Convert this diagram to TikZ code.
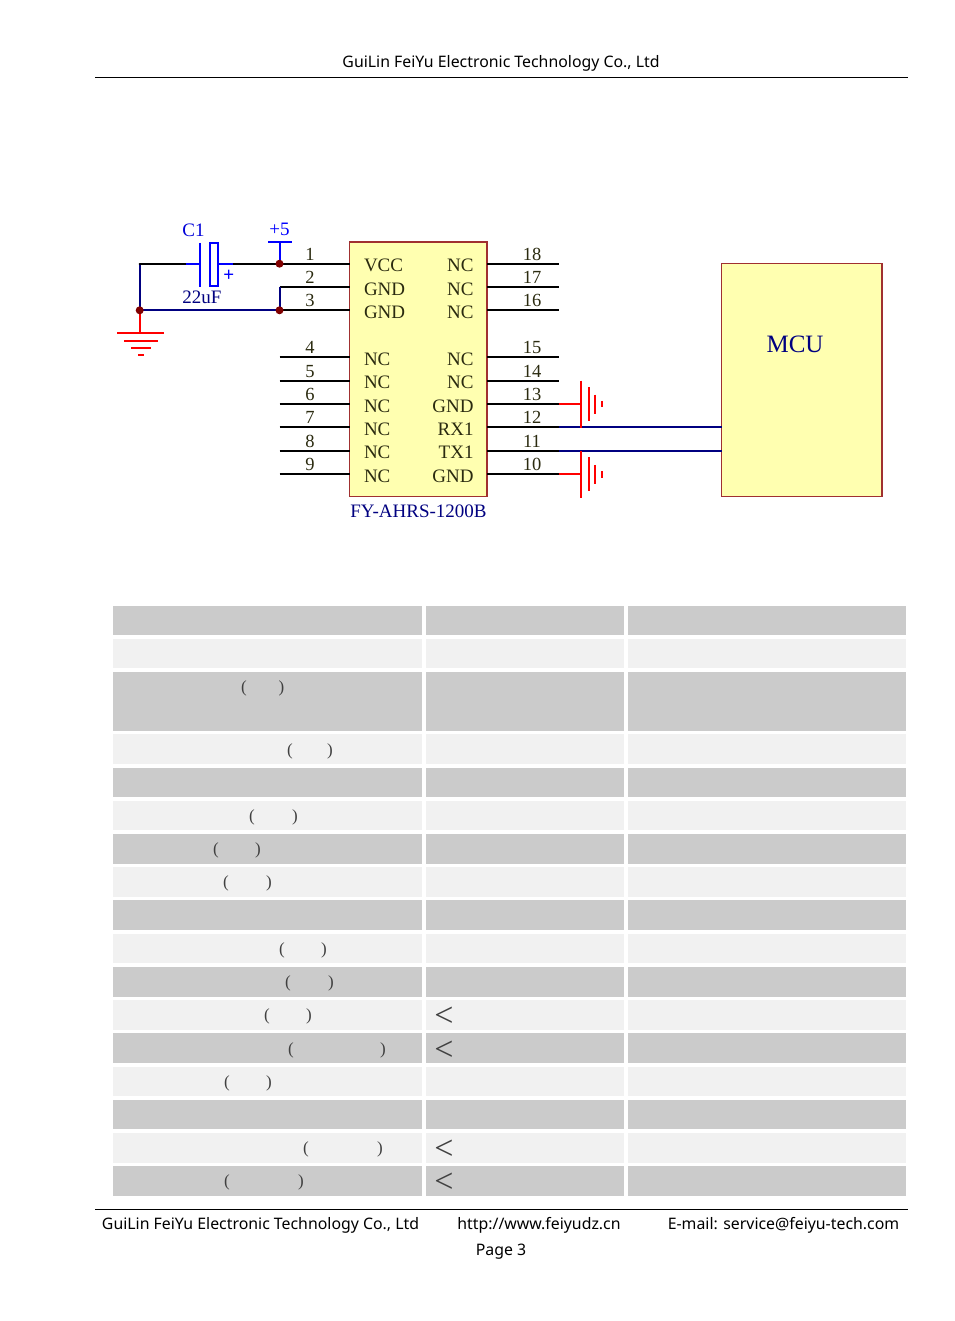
\documentclass[tikz,border=0pt]{standalone}
\usepackage{fontspec}
\setmainfont{Liberation Serif}
\newfontfamily\docsans{Noto Sans}
\definecolor{wirenavy}{HTML}{000080}
\definecolor{partblue}{HTML}{0000FF}
\definecolor{gndred}{HTML}{FF0000}
\definecolor{juncred}{HTML}{800000}
\definecolor{chipfill}{HTML}{FFFFB0}
\definecolor{chipedge}{HTML}{A03030}
\definecolor{pintext}{HTML}{2B2B10}
\definecolor{rowdark}{HTML}{CBCBCB}
\definecolor{rowlight}{HTML}{F1F1F1}
\tikzset{
  every node/.style={inner sep=0pt,outer sep=0pt},
  chipbox/.style={draw=chipedge,fill=chipfill,line width=1.5pt,anchor=north west},
  pinwire/.style={draw=black,line width=2pt},
  netwire/.style={draw=wirenavy,line width=2pt},
  partline/.style={draw=partblue,line width=2pt},
  gndline/.style={draw=gndred,line width=2pt},
  dotjunc/.style={circle,fill=juncred,minimum size=8pt},
  pinname/.style={font=\fontsize{19}{19}\selectfont,text=pintext,anchor=base},
  pinnum/.style={font=\fontsize{18.5}{19}\selectfont,text=pintext,anchor=base},
  partlabel/.style={font=\fontsize{19}{19}\selectfont,text=wirenavy,anchor=base},
  doctext/.style={font=\docsans\fontsize{15.85}{18}\selectfont,text=black,anchor=base},
  docrule/.style={draw=black,line width=0.9pt},
  darkrow/.style={fill=rowdark,draw=none,anchor=north west},
  lightrow/.style={fill=rowlight,draw=none,anchor=north west},
  tabmark/.style={font=\fontsize{17}{17}\selectfont,text=black!75,anchor=center},
}
\begin{document}
\begin{tikzpicture}[x=1pt,y=-1pt]
\useasboundingbox (0,0) rectangle (954,1321);
\fill[white] (0,0) rectangle (954,1321);

% header and footer
\node[doctext] (head) at (501,68) {GuiLin FeiYu Electronic Technology Co., Ltd};
\coordinate (headL) at (95,77.5); \coordinate (headR) at (908,77.5);
\draw[docrule] (headL) -- (headR);
\coordinate (footL) at (95,1209.5); \coordinate (footR) at (908,1209.5);
\draw[docrule] (footL) -- (footR);
\node[doctext] (foot1) at (260.5,1229.3) {GuiLin FeiYu Electronic Technology Co., Ltd};
\node[doctext] (foot2) at (539,1229.3) {http://www.feiyudz.cn};
\node[doctext] (foot3) at (783.5,1229.3) {E-mail: service@feiyu-tech.com};
\node[doctext] (foot4) at (501,1255.3) {Page 3};

% chip and MCU
\node[chipbox,minimum width=137.5pt,minimum height=254.5pt] (chip) at (349.6,242) {};
\node[chipbox,minimum width=160.5pt,minimum height=233pt] (mcu) at (721.5,263.7) {};
\node[font=\fontsize{25}{25}\selectfont,text=wirenavy,anchor=base] (mculabel) at (795,352) {MCU};
\node[partlabel] (chiplabel) at (418.5,517) {FY-AHRS-1200B};

% pins: number / wire y
\foreach \n/\w/\nm in {1/263.7/VCC,2/287/GND,3/310.3/GND,4/357/NC,5/380.7/NC,6/404/NC,7/427.3/NC,8/450.7/NC,9/474.3/NC}{
  \coordinate (L\n) at (279.5,\w);
  \coordinate (LE\n) at (350,\w);
  \draw[pinwire] (L\n) -- (LE\n);
  \node[pinnum] (ln\n) at (310,\w-3.6) {\n};
  \node[pinname,anchor=base west] (lname\n) at (364,\w+8) {\nm};
}
\foreach \n/\w/\nm in {18/263.7/NC,17/287/NC,16/310.3/NC,15/357/NC,14/380.7/NC,13/404/GND,12/427.3/RX1,11/450.7/TX1,10/474.3/GND}{
  \coordinate (R\n) at (558.5,\w);
  \coordinate (RE\n) at (487,\w);
  \draw[pinwire] (RE\n) -- (R\n);
  \node[pinnum] (rn\n) at (532,\w-3.6) {\n};
  \node[pinname,anchor=base east] (rname\n) at (473.5,\w+8) {\nm};
}

% nets to MCU
\coordinate (netRX) at (558.5,427.3); \coordinate (netTX) at (558.5,450.7);
\coordinate (mcuRX) at (722,427.3); \coordinate (mcuTX) at (722,450.7);
\draw[netwire] (netRX) -- (mcuRX);
\draw[netwire] (netTX) -- (mcuTX);

% left nets
\coordinate (leftTop) at (139.7,263.7);
\coordinate (capL) at (186,263.7);
\coordinate (capR) at (233,263.7);
\coordinate (jVccPt) at (279.5,263.7);
\coordinate (jGndPt) at (279.5,310.3);
\coordinate (jLeftPt) at (139.7,310.3);
\draw[netwire] (jLeftPt) -- (jGndPt);
\draw[netwire] (jLeftPt) -- (leftTop);
\draw[netwire] (L2) -- (jGndPt);
\draw[pinwire,line cap=round] (leftTop) -- (capL);
\draw[pinwire] (capR) -- (jVccPt);

% capacitor
\coordinate (plateLT) at (200,243); \coordinate (plateLB) at (200,287);
\coordinate (plateLm) at (200,263.7);
\node[draw=partblue,line width=2pt,minimum width=8pt,minimum height=43pt] (plateR) at (213.7,264.5) {};
\draw[partline] (capL) -- (plateLm);
\draw[partline] (plateLT) -- (plateLB);
\draw[partline] (plateR.east |- capR) -- (capR);
\node[font=\docsans\bfseries\fontsize{19}{19}\selectfont,text=partblue] (plus) at (228.7,276) {+};
\node[partlabel,text=partblue!70!wirenavy] (c1) at (193.5,236.5) {C1};
\node[partlabel] (cval) at (202,304) {22uF};

% +5 rail
\coordinate (railL) at (268,241.7); \coordinate (railR) at (292,241.7); \coordinate (railM) at (279.5,241.7);
\draw[partline] (railL) -- (railR);
\draw[partline] (railM) -- (jVccPt);
\node[partlabel,text=partblue] (plusfive) at (279.5,235.8) {+5};

% ground symbol left
\foreach \i/\y/\a/\b in {1/333/117/164,2/341/124/157.5,3/348/131/151,4/355/138/144}{
  \coordinate (ga\i) at (\a,\y); \coordinate (gb\i) at (\b,\y);
  \draw[gndline] (ga\i) -- (gb\i);
}
\coordinate (gtop) at (139.7,333);
\draw[gndline] (jLeftPt) -- (gtop);

% junction dots on top of the wires
\node[dotjunc] (jVcc) at (jVccPt) {};
\node[dotjunc] (jGnd) at (jGndPt) {};
\node[dotjunc] (jLeft) at (jLeftPt) {};

% right ground symbols
\foreach \s/\pin/\yc in {a/R13/404,b/R10/474.3}{
  \coordinate (g\s m) at (580.7,\yc);
  \draw[gndline] (\pin) -- (g\s m);
  \foreach \i/\x/\h in {1/580.7/23.5,2/588.7/17,3/595/9.5,4/601.7/3.2}{
    \coordinate (g\s t\i) at (\x,\yc-\h); \coordinate (g\s u\i) at (\x,\yc+\h);
    \draw[gndline] (g\s t\i) -- (g\s u\i);
  }
}

% table
\foreach \r/\top/\bot/\sty in {1/606/635/darkrow,2/639/668/lightrow,3/672/731/darkrow,4/734/764/lightrow,5/768/797/darkrow,6/801/830/lightrow,7/834/864/darkrow,8/867/897/lightrow,9/900/930/darkrow,10/934/963/lightrow,11/967/997/darkrow,12/1000/1030/lightrow,13/1033/1063/darkrow,14/1067/1096/lightrow,15/1100/1129/darkrow,16/1133/1163/lightrow,17/1166/1196/darkrow}{
  \pgfmathsetmacro{\hh}{\bot-\top}
  \node[\sty,minimum width=309pt,minimum height=\hh pt] (c\r a) at (113,\top) {};
  \node[\sty,minimum width=198pt,minimum height=\hh pt] (c\r b) at (426,\top) {};
  \node[\sty,minimum width=278pt,minimum height=\hh pt] (c\r c) at (628,\top) {};
}
\foreach \k/\a/\b/\y in {3/244/281.5/688,4/290/330/751,6/252/295/817,7/216/258/850,8/226/269/883,10/282/324/950,11/288/331/983,12/267/309/1016,13/291/383/1050,14/227/269/1083,16/306/380/1149,17/227/301/1182}{
  \node[tabmark] (po\k) at (\a,\y) {(};
  \node[tabmark] (pc\k) at (\b,\y) {)};
}
\foreach \k/\y in {12/1017,13/1051,16/1150,17/1183}{
  \node[tabmark,font=\fontsize{34}{34}\selectfont] (lt\k) at (444,\y) {<};
}
\end{tikzpicture}
\end{document}
